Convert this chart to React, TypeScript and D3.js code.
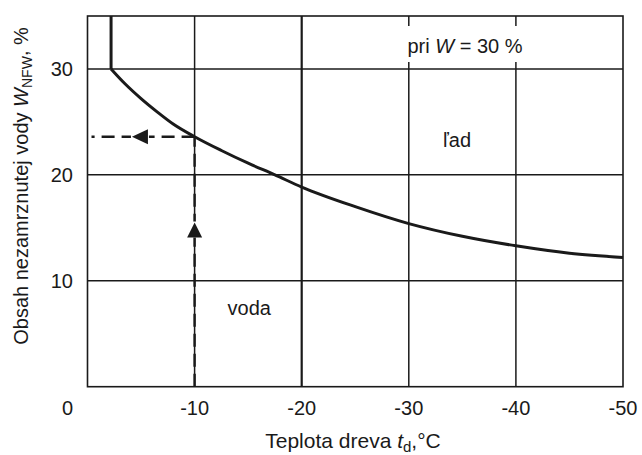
import React from "react";
import * as d3 from "d3";

// Wood temperature (°C) and the share of unfrozen water W_NFW (%) at W = 30 %
const temps = [-2.2, -3.5, -5, -6.5, -8, -10, -12.5, -15, -17.5, -20, -25, -30, -35, -40, -45, -50];
const nfw = [30, 28.6, 27.2, 25.95, 24.8, 23.6, 22.3, 21.1, 20.0, 18.85, 17.0, 15.4, 14.2, 13.3, 12.6, 12.2];

const xTicks = [-10, -20, -30, -40, -50];
const yTicks = [10, 20, 30];
const xGrid = [-10, -20, -30, -40];

// Reading example: from -10 °C up to the curve, then across to the axis
const readTemp = -10;
const readValue = 23.6;
const upArrowAt = 15.5;
const leftArrowAt = -4.15;

const W = 642;
const H = 455;
const FONT = "'Liberation Sans', Arial, Helvetica, sans-serif";
const INK = "#1a1a1a";

export default function App() {
  const x = d3.scaleLinear().domain([0, -50]).range([87.5, 623]);
  const y = d3.scaleLinear().domain([0, 35]).range([386.7, 16]);

  const pts: [number, number][] = temps.map((t, i) => [t, nfw[i]]);
  const line = d3
    .line<[number, number]>()
    .x((d) => x(d[0]))
    .y((d) => y(d[1]))
    .curve(d3.curveMonotoneX);

  const [x0, x1] = x.range();
  const [y0, y1] = y.range();

  const ux = x(readTemp);
  const uy = y(upArrowAt);
  const ly = y(readValue);
  const lx = x(leftArrowAt);

  return (
    <svg
      width={W}
      height={H}
      style={{ position: "absolute", left: 0, top: 0, background: "#fff" }}
      fontFamily={FONT}
    >
      <rect x={0} y={0} width={W} height={H} fill="#fff" />

      {/* grid */}
      {xGrid.map((t) => (
        <line
          key={"gx" + t}
          x1={x(t)}
          x2={x(t)}
          y1={y1}
          y2={y0}
          stroke={INK}
          strokeWidth={t === -20 ? 2.2 : 1.5}
        />
      ))}
      {yTicks.map((v) => (
        <line key={"gy" + v} x1={x0} x2={x1} y1={y(v)} y2={y(v)} stroke={INK} strokeWidth={1.5} />
      ))}

      {/* note with white backing */}
      <rect x={394} y={26} width={142} height={36} fill="#fff" />
      <text x={465} y={53} textAnchor="middle" fontSize={20} fill={INK}>
        pri <tspan fontStyle="italic">W</tspan> = 30 %
      </text>

      {/* frame */}
      <rect x={x0} y={y1} width={x1 - x0} height={y0 - y1} fill="none" stroke={INK} strokeWidth={1.6} />

      {/* dashed reading lines */}
      <line x1={ux} x2={ux} y1={y0} y2={ly} stroke={INK} strokeWidth={2.4} strokeDasharray="13,7" />
      <line x1={ux} x2={x0 + 4} y1={ly} y2={ly} stroke={INK} strokeWidth={2.4} strokeDasharray="13,7" />
      <rect x={ux - 8} y={uy - 1} width={16} height={16} fill="#fff" />
      <path d={`M${ux},${uy} L${ux - 7.5},${uy + 15} L${ux + 7.5},${uy + 15} Z`} fill={INK} />
      <rect x={lx - 1} y={ly - 8} width={18} height={16} fill="#fff" />
      <path d={`M${lx},${ly} L${lx + 16},${ly - 7.5} L${lx + 16},${ly + 7.5} Z`} fill={INK} />

      {/* curve */}
      <line
        x1={x(temps[0])}
        x2={x(temps[0])}
        y1={y1}
        y2={y(nfw[0])}
        stroke={INK}
        strokeWidth={3}
      />
      <path d={line(pts) ?? ""} fill="none" stroke={INK} strokeWidth={3} strokeLinejoin="round" />

      {/* region labels */}
      <text x={x(-15.1)} y={315} textAnchor="middle" fontSize={20} fill={INK}>
        voda
      </text>
      <text x={457} y={147} textAnchor="middle" fontSize={20} fill={INK}>
        ľad
      </text>

      {/* tick labels */}
      {yTicks.map((v) => (
        <text key={"ty" + v} x={73} y={y(v) + 7} textAnchor="end" fontSize={20} fill={INK}>
          {v}
        </text>
      ))}
      <text x={73} y={415} textAnchor="end" fontSize={20} fill={INK}>
        0
      </text>
      {xTicks.map((t) => (
        <text key={"tx" + t} x={x(t)} y={415} textAnchor="middle" fontSize={20} fill={INK}>
          {t}
        </text>
      ))}

      {/* axis titles */}
      <text x={353} y={448} textAnchor="middle" fontSize={21} fill={INK}>
        Teplota dreva <tspan fontStyle="italic">t</tspan>
        <tspan fontSize={15} dy={4}>d</tspan>
        <tspan dy={-4}>,°C</tspan>
      </text>
      <text
        transform={`translate(28,186) rotate(-90)`}
        textAnchor="middle"
        fontSize={20}
        fill={INK}
      >
        Obsah nezamrznutej vody <tspan fontStyle="italic">W</tspan>
        <tspan fontSize={14} dy={4}>NFW</tspan>
        <tspan dy={-4}>, %</tspan>
      </text>
    </svg>
  );
}
